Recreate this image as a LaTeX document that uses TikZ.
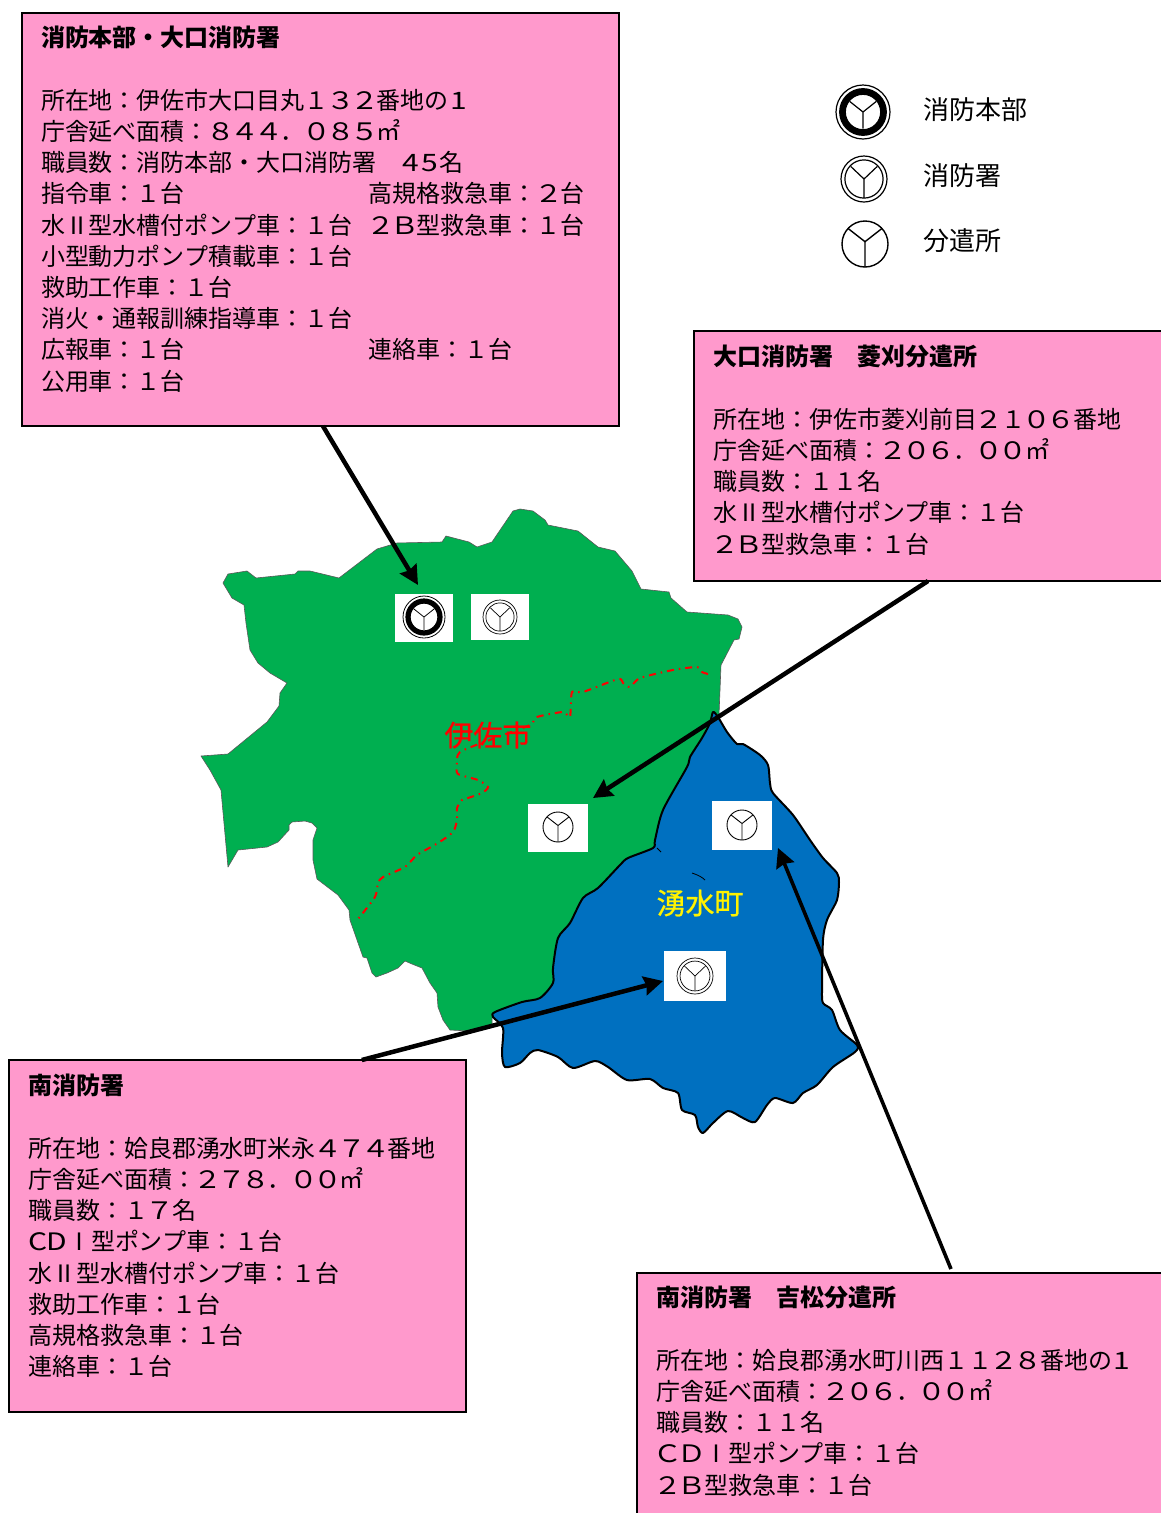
\documentclass[tikz,border=0pt]{standalone}
\usepackage{fontspec}
\usepackage{graphicx}
\setmainfont{Noto Sans CJK JP}
\newfontfamily\mapfont[FakeBold=0.7]{Noto Sans CJK JP}
\usetikzlibrary{arrows.meta,calc}
\definecolor{pinkbox}{HTML}{FF99CC}
\definecolor{mapgreen}{HTML}{00AF50}
\definecolor{mapblue}{HTML}{0070C0}
\newcommand\hd[1]{\makebox[19.5pt]{\scalebox{1.25}[1]{#1}}}
\newcommand\fw[1]{\makebox[24pt]{\scalebox{1.2}[1]{#1}}}
\newcommand\colA[1]{\makebox[328pt][l]{#1}}
% marks: x, y, radius, line width
\newcommand\hqmark[4]{\begin{scope}[shift={(#1,#2)},line width=#4pt]
  \draw circle[radius=#3];
  \draw[line width={#3*0.25pt}] circle[radius={#3*0.76}];
  \draw (0,0) -- ({-0.49*#3},{-0.39*#3}) (0,0) -- ({0.49*#3},{-0.39*#3}) (0,0) -- (0,{0.62*#3});
\end{scope}}
\newcommand\stamark[4]{\begin{scope}[shift={(#1,#2)},line width=#4pt]
  \draw circle[radius=#3];
  \draw circle[radius={#3*0.83}];
  \draw (0,0) -- ({-0.58*#3},{-0.55*#3}) (0,0) -- ({0.58*#3},{-0.55*#3}) (0,0) -- (0,{0.83*#3});
\end{scope}}
\newcommand\bramark[4]{\begin{scope}[shift={(#1,#2)},line width=#4pt]
  \draw circle[radius=#3];
  \draw (0,{-0.1*#3}) -- ({-0.73*#3},{-0.67*#3}) (0,{-0.1*#3}) -- ({0.73*#3},{-0.67*#3}) (0,{-0.1*#3}) -- (0,#3);
\end{scope}}
\tikzset{
  infobox/.style={draw=black,fill=pinkbox,line width=2.4pt,anchor=north west,outer sep=0pt,inner sep=0pt},
  infotext/.style={anchor=north west,inner sep=0pt,outer sep=0pt,align=left,font=\fontsize{24}{31.2}\selectfont,text=black},
  legendtext/.style={anchor=west,inner sep=0pt,font=\fontsize{26}{31}\selectfont},
  maplabel/.style={inner sep=0pt,font=\mapfont\fontsize{29}{33}\selectfont},
  iconbg/.style={fill=white,draw=none,inner sep=0pt,outer sep=0pt,anchor=north west},
  callout/.style={line width=4.5pt,-{Stealth[length=19pt,width=19pt,inset=2pt]}},
}
\begin{document}
\begin{tikzpicture}[x=1pt,y=-1pt]
\path[use as bounding box,clip] (0,0) rectangle (1161,1513);
% Isa city
\fill[white] (0,0) rectangle (1161,1513);
\draw[draw=black!65,line width=0.6pt,fill=mapgreen,line join=round]
 (223,583)--(228,574)--(247,571)--(256,578)--(295,574)--(298,571)--(310,571)--(339,578)--(377,549)--(397,543)--(442,542)--(446,536)--(469,542)--(477,547)--(492,542)--(513,511)--(520,509)--(533,511)--(545,520)--(548,525)--(578,531)--(598,547)--(615,551)--(632,571)--(641,589)--(669,592)--(671,598)--(687,612)--(728,615)--(738,619)--(742,627)--(739,639)--(734,640)--(721,665)--(719,715)--(700,760)--(680,810)--(670,850)--(610,895)--(575,945)--(570,990)--(530,1010)--(500,1016)--(492,1018)--(492,1025)--(470,1031)--(450,1030)--(443,1020)--(438,1007)--(437,993)--(430,983)--(422,968)--(412,964)--(405,961)--(398,968)--(387,973)--(376,977)--(372,973)--(367,958)--(363,957)--(350,920)--(349,910)--(338,895)--(317,879)--(313,860)--(313,840)--(317,828)--(312,823)--(305,821)--(292,822)--(289,825)--(289,830)--(278,842)--(267,847)--(238,850)--(228,867)--(221,790)--(210,770)--(201,756)--(228,754)--(267,722)--(279,706)--(280,693)--(287,683)--(270,673)--(258,663)--(250,650)--(246,623)--(244,605)--(232,598)--cycle;
% Yusui town
\draw[draw=black,line width=2pt,fill=mapblue,line join=round]
 plot[smooth cycle,tension=0.45] coordinates {(713,712)(718,717)(727,732)(737,744)(743,744)(760,755)(768,765)(770,783)(773,793)(793,815)(810,840)(823,858)(837,873)(839,882)(837,900)(827,920)(823,940)(822,990)(823,1003)(832,1010)(840,1030)(857,1045)(855,1052)(833,1067)(817,1085)(803,1093)(793,1103)(775,1098)(767,1105)(755,1122)(743,1118)(728,1111)(713,1123)(703,1133)(698,1127)(695,1115)(682,1110)(678,1093)(663,1088)(650,1079)(627,1080)(608,1067)(595,1061)(573,1068)(558,1057)(538,1050)(530,1053)(520,1063)(505,1067)(502,1053)(503,1028)(493,1017)(495,1012)(522,1002)(540,998)(553,983)(553,968)(558,938)(570,923)(583,898)(598,888)(620,865)(628,858)(653,848)(655,840)(663,810)(687,767)(690,757)(702,738)(710,723)};
\draw[black,line width=0.8pt] (657,848) -- (661,852) (692,873) .. controls (698,875) and (702,877) .. (705,880);
% boundary inside Isa city
\draw[red,line width=2pt,dash pattern=on 7pt off 5pt on 1.5pt off 5pt]
 plot[smooth,tension=0.4] coordinates {(708,674)(702,672)(697,667)(673,670)(640,678)(630,687)(623,683)(618,679)(583,692)(572,692)(570,717)(563,712)(537,717)(530,725)(495,738)(460,752)(457,765)(458,774)(478,780)(488,787)(482,793)(468,798)(462,800)(457,808)(457,820)(453,832)(438,843)(417,855)(405,867)(383,877)(378,883)(375,897)(358,919)};
\node[maplabel,text=red] (isa) at (488,735) {伊佐市};
\node[maplabel,text=yellow] (yusui) at (700,903) {湧水町};
% icons on the map
\node[iconbg,minimum width=58pt,minimum height=48pt] (iconA) at (395,594) {};
\node[iconbg,minimum width=58pt,minimum height=46pt] (iconB) at (471,594) {};
\node[iconbg,minimum width=60pt,minimum height=48pt] (iconC) at (528,804) {};
\node[iconbg,minimum width=60pt,minimum height=49pt] (iconD) at (712,801) {};
\node[iconbg,minimum width=62pt,minimum height=50pt] (iconE) at (664,951) {};
\hqmark{424}{617}{21}{0.8}
\stamark{500}{617}{17}{0.7}
\bramark{558}{827}{15}{0.9}
\bramark{742}{825}{15}{0.9}
\stamark{695}{976}{18}{0.7}
% legend
\hqmark{863}{112}{27}{1.2}
\stamark{864}{179}{23}{1.2}
\bramark{865}{244}{23}{1.4}
\node[legendtext] (leg1) at (923,110) {消防本部};
\node[legendtext] (leg2) at (923,176) {消防署};
\node[legendtext] (leg3) at (923,241) {分遣所};
% boxes
\node[infobox,minimum width=597pt,minimum height=413pt] (box1) at (22,13) {};
\node[infotext] (text1) at (41,26.3) {\textbf{消防本部・大口消防署}\\[31.2pt]
所在地：伊佐市大口目丸１\fw{３}\fw{２}番地の\hd{1}\\
庁舎延べ面積：\fw{８}\fw{４}\fw{４}．\fw{０}\fw{８}\fw{５}㎡\\
職員数：消防本部・大口消防署　\hd{4}\hd{5}名\\
\colA{指令車：１台}高規格救急車：\fw{２}台\\
\colA{水Ⅱ型水槽付ポンプ車：１台}\fw{２}\fw{Ｂ}型救急車：１台\\
小型動力ポンプ積載車：１台\\
救助工作車：１台\\
消火・通報訓練指導車：１台\\
\colA{広報車：１台}連絡車：１台\\
公用車：１台};
\node[infobox,minimum width=480pt,minimum height=250pt] (box2) at (694,331) {};
\node[infotext] (text2) at (713,345.3) {\textbf{大口消防署　菱刈分遣所}\\[31.2pt]
所在地：伊佐市菱刈前目\fw{２}１\fw{０}\fw{６}番地\\
庁舎延べ面積：\fw{２}\fw{０}\fw{６}．\fw{０}\fw{０}㎡\\
職員数：１１名\\
水Ⅱ型水槽付ポンプ車：１台\\
\fw{２}\fw{Ｂ}型救急車：１台};
\node[infobox,minimum width=457pt,minimum height=352pt] (box3) at (9,1060) {};
\node[infotext] (text3) at (28,1074.3) {\textbf{南消防署}\\[31.2pt]
所在地：姶良郡湧水町米永\fw{４}\fw{７}\fw{４}番地\\
庁舎延べ面積：\fw{２}\fw{７}\fw{８}．\fw{０}\fw{０}㎡\\
職員数：１\fw{７}名\\
\hd{C}\hd{D}Ⅰ型ポンプ車：１台\\
水Ⅱ型水槽付ポンプ車：１台\\
救助工作車：１台\\
高規格救急車：１台\\
連絡車：１台};
\node[infobox,minimum width=540pt,minimum height=260pt] (box4) at (637,1273) {};
\node[infotext] (text4) at (656,1286.3) {\textbf{南消防署　吉松分遣所}\\[31.2pt]
所在地：姶良郡湧水町川西１１\fw{２}\fw{８}番地の\hd{1}\\
庁舎延べ面積：\fw{２}\fw{０}\fw{６}．\fw{０}\fw{０}㎡\\
職員数：１１名\\
\fw{Ｃ}\fw{Ｄ}Ⅰ型ポンプ車：１台\\
\fw{２}\fw{Ｂ}型救急車：１台};
% callouts
\coordinate (tipA) at (418,585);
\coordinate (tipC) at (593,798);
\coordinate (tipE) at (663,981);
\coordinate (tipD) at (778,848);
\coordinate (startD) at (951,1269);
\draw[callout] ($(box1.south west)!0.504!(box1.south east)$) -- (tipA);
\draw[callout] ($(box2.south west)!0.4875!(box2.south east)$) -- (tipC);
\draw[callout] ($(box3.north west)!0.772!(box3.north east)$) -- (tipE);
\draw[callout,line width=3.6pt] (startD) -- (tipD);
\end{tikzpicture}
\end{document}
